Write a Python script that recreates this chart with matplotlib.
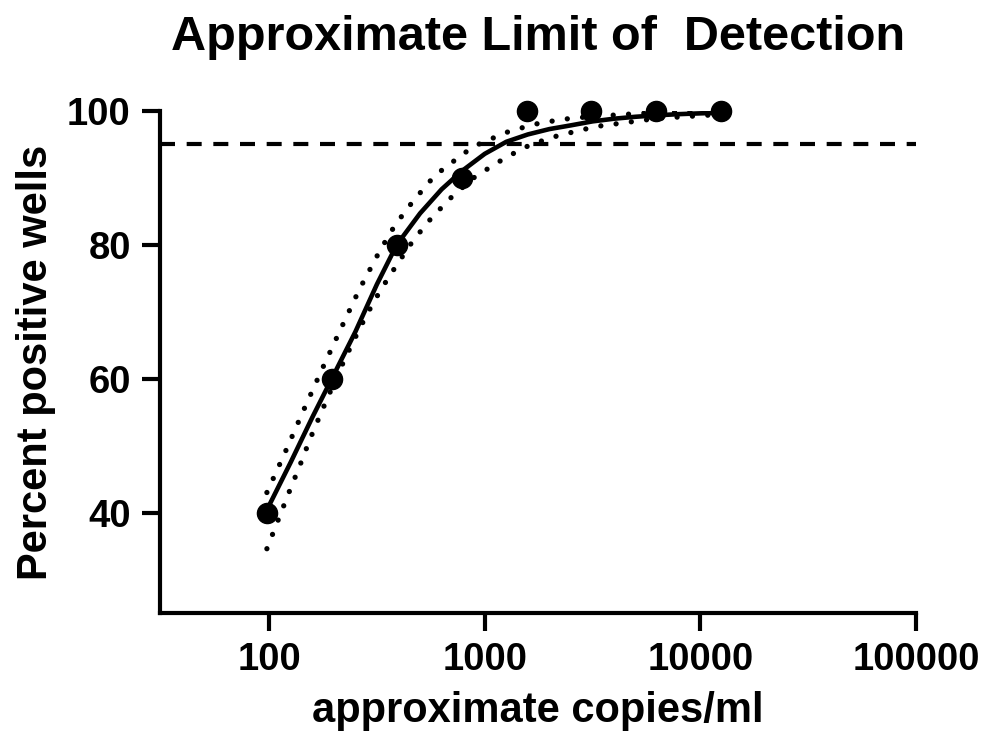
import matplotlib
matplotlib.use("Agg")
import matplotlib.pyplot as plt

plt.rcParams['font.family'] = ['Liberation Sans', 'DejaVu Sans']
plt.rcParams['font.weight'] = 'bold'

# measured points (copies/ml vs % positive wells)
copies = [97.66, 195.3, 390.6, 781.25, 1562.5, 3125, 6250, 12500]
percent = [40, 60, 80, 90, 100, 100, 100, 100]

# fitted curve
fit_x = [97.7, 125.9, 158.5, 195.3, 251.2, 316.2, 390.6, 501.2, 631, 781.3, 1000,
         1259, 1585, 1995, 2512, 3162, 3981, 5012, 6310, 7943, 10000, 12500]
fit_y = [40.4, 47.5, 54.2, 60.0, 67.0, 74.1, 80.0, 84.7, 88.3, 91.0, 93.6,
         95.4, 96.5, 97.3, 97.86, 98.45, 98.85, 99.14, 99.36, 99.53, 99.65, 99.74]

# confidence band (dotted)
upper_x = [97.7, 118.3, 143.2, 174.2, 213.3, 261.8, 327.3, 384.6, 464.5, 568.9,
           639.7, 820.4, 946, 1259, 1685, 2280, 3034, 6300, 12500]
upper_y = [43.0, 48.9, 55.0, 61.1, 67.2, 73.3, 79.2, 83.0, 86.5, 89.85,
           91.3, 93.9, 95.1, 96.8, 98.0, 98.75, 99.15, 99.8, 99.95]
lower_x = [97.7, 109.3, 122.9, 138.4, 154.9, 175.8, 213.3, 244.3, 281.8, 329.6,
           390.8, 466.7, 568.9, 709.6, 903.6, 1259, 1637, 2178, 2924, 3311, 6300, 12500]
lower_y = [34.6, 38.6, 42.8, 46.9, 51.0, 55.2, 61.4, 65.4, 69.4, 73.3,
           77.0, 80.7, 84.1, 87.3, 90.2, 93.1, 95.0, 96.3, 97.3, 97.7, 98.9, 99.5]

lod_level = 95
xticks = [100, 1000, 10000, 100000]
yticks = [40, 60, 80, 100]

fig = plt.figure(figsize=(9.9, 7.48), dpi=100)
ax = fig.add_axes([0.1616, 0.1805, 0.7637, 0.6711])

ax.axhline(lod_level, color='black', lw=3.0, ls=(0, (3.6, 2.8)))
ax.plot(upper_x, upper_y, color='black', lw=3.8, ls=(0, (0.01, 2.9)),
        dash_capstyle='round')
ax.plot(lower_x, lower_y, color='black', lw=3.8, ls=(0, (0.01, 2.9)),
        dash_capstyle='round')
ax.plot(fit_x, fit_y, color='black', lw=3.3, solid_capstyle='round',
        solid_joinstyle='round')
ax.plot(copies, percent, 'o', color='black', ms=14.5, clip_on=False, zorder=5)

ax.set_xscale('log')
ax.set_xlim(31.2, 100000)
ax.set_ylim(25, 100)
ax.set_xticks(xticks)
ax.set_xticklabels([str(t) for t in xticks])
ax.minorticks_off()
ax.set_yticks(yticks)

for s in ['top', 'right']:
    ax.spines[s].set_visible(False)
for s in ['left', 'bottom']:
    ax.spines[s].set_linewidth(3.0)
ax.tick_params(width=3.0, length=13, labelsize=27.5, pad=8)

ax.set_xlabel('approximate copies/ml', fontsize=30, fontweight='bold', labelpad=9)
ax.set_ylabel('Percent positive wells', fontsize=30, fontweight='bold', labelpad=8)
fig.text(0.543, 0.933, 'Approximate Limit of  Detection', fontsize=35,
         fontweight='bold', ha='center', va='baseline')

fig.savefig('out.png', dpi=100)
